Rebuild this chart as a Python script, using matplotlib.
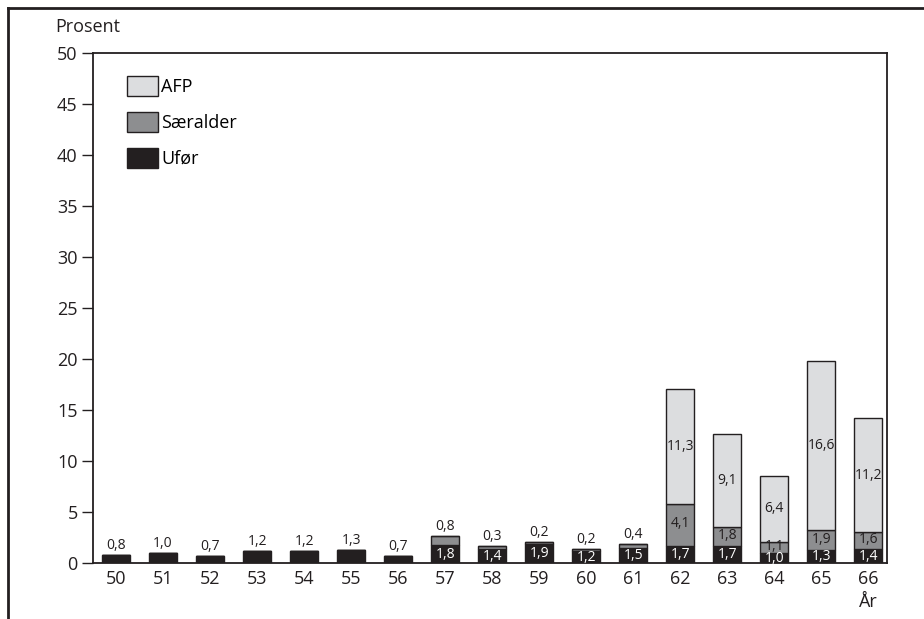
import matplotlib
matplotlib.use("Agg")
import matplotlib.pyplot as plt
from matplotlib.lines import Line2D
from matplotlib.patches import Patch
import numpy as np

plt.rcParams["font.family"] = ["Open Sans", "DejaVu Sans"]

ages = ["50", "51", "52", "53", "54", "55", "56", "57", "58",
        "59", "60", "61", "62", "63", "64", "65", "66"]
ufor = [0.8, 1.0, 0.7, 1.2, 1.2, 1.3, 0.7, 1.8, 1.4, 1.9, 1.2, 1.5, 1.7, 1.7, 1.0, 1.3, 1.4]
saeralder = [0, 0, 0, 0, 0, 0, 0, 0.8, 0.3, 0.2, 0.2, 0.4, 4.1, 1.8, 1.1, 1.9, 1.6]
afp = [0, 0, 0, 0, 0, 0, 0, 0, 0, 0, 0, 0, 11.3, 9.1, 6.4, 16.6, 11.2]

dark = "#231f20"
c_afp = "#dcdddf"
c_saer = "#8d8e90"
c_ufor = "#231f20"


def fmt(v):
    return f"{v:.1f}".replace(".", ",")


fig = plt.figure(figsize=(9.24, 6.19), dpi=100)
ax = fig.add_axes([0.1006, 0.0905, 0.8594, 0.8239])

x = np.arange(len(ages))
ufor = np.array(ufor)
saeralder = np.array(saeralder)
afp = np.array(afp)
w = 0.6

ax.bar(x, ufor, w, color=c_ufor, edgecolor=dark, linewidth=1)
ax.bar(x, saeralder, w, bottom=ufor, color=c_saer, edgecolor=dark, linewidth=1)
ax.bar(x, afp, w, bottom=ufor + saeralder, color=c_afp, edgecolor=dark, linewidth=1)

fs = 10
for i in range(len(ages)):
    u, s, a = ufor[i], saeralder[i], afp[i]
    if s == 0 and a == 0:
        ax.text(x[i], u + 0.2, fmt(u), ha="center", va="bottom", fontsize=fs, color=dark)
        continue
    ax.text(x[i], u / 2 - 0.05, fmt(u), ha="center", va="center", fontsize=fs, color="white")
    if a == 0:
        ax.text(x[i], u + s + 0.2, fmt(s), ha="center", va="bottom", fontsize=fs, color=dark)
    else:
        ax.text(x[i], u + s / 2 + 0.1, fmt(s), ha="center", va="center", fontsize=fs, color=dark)
        ax.text(x[i], u + s + a / 2, fmt(a), ha="center", va="center", fontsize=fs, color=dark)

ax.set_xlim(-0.49, 16.4)
ax.set_ylim(0, 50)
ax.set_yticks(range(0, 51, 5))
ax.set_xticks(x)
ax.set_xticklabels(ages)
ax.tick_params(axis="y", length=8, width=1, color=dark, labelsize=13, labelcolor=dark, pad=3)
ax.tick_params(axis="x", length=0, labelsize=13, labelcolor=dark, pad=5)
for sp in ax.spines.values():
    sp.set_color(dark)
    sp.set_linewidth(1.3)

handles = [Patch(facecolor=c_afp, edgecolor=dark, label="AFP"),
           Patch(facecolor=c_saer, edgecolor=dark, label="Særalder"),
           Patch(facecolor=c_ufor, edgecolor=dark, label="Ufør")]
ax.legend(handles=handles, loc="upper left", bbox_to_anchor=(0.027, 0.98),
          frameon=False, fontsize=13, handlelength=1.7, handleheight=1.3,
          handletextpad=0.2, labelspacing=0.9, borderaxespad=0.3)

fig.text(55 / 924, 1 - 27 / 619, "Prosent", fontsize=13, color=dark, va="center", ha="left")
ax.text(x[-1], -2.9, "År", fontsize=13, color=dark, ha="center", va="top")

# outer frame
fig.add_artist(Line2D([8 / 924, 1.0], [1 - 8 / 619, 1 - 8 / 619], color=dark, linewidth=2,
                      transform=fig.transFigure))
fig.add_artist(Line2D([8 / 924, 8 / 924], [0, 1 - 8 / 619], color=dark, linewidth=2,
                      transform=fig.transFigure))

fig.savefig("out.png", dpi=100)
